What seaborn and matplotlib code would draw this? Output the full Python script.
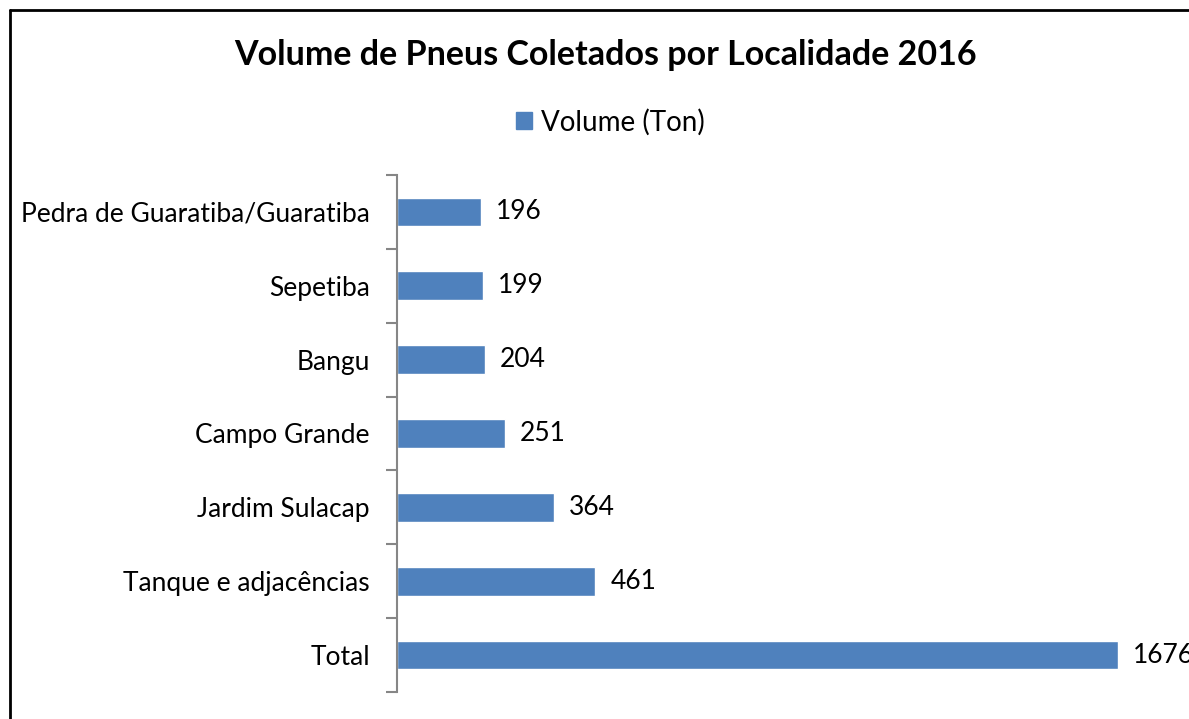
import matplotlib
matplotlib.use("Agg")
import matplotlib.pyplot as plt
import seaborn as sns
import pandas as pd
import numpy as np
from matplotlib.lines import Line2D
from matplotlib.patches import Rectangle
from matplotlib.ticker import FixedLocator

categories = ["Pedra de Guaratiba/Guaratiba", "Sepetiba", "Bangu", "Campo Grande",
              "Jardim Sulacap", "Tanque e adjacências", "Total"]
values = [196, 199, 204, 251, 364, 461, 1676]
series_name = "Volume (Ton)"
title = "Volume de Pneus Coletados por Localidade 2016"

sns.set_theme(style="white")
plt.rcParams['font.family'] = ['Lato', 'DejaVu Sans']
plt.rcParams['text.color'] = 'black'

W, H = 1189, 719
fig = plt.figure(figsize=(W/100, H/100), dpi=100)
ax_left, ax_right = 397/W, 1.0
ax_top, ax_bot = 1 - 175/H, 1 - 692/H
ax = fig.add_axes([ax_left, ax_bot, ax_right - ax_left, ax_top - ax_bot])

df = pd.DataFrame({"cat": categories, "val": values})
color = "#4F81BD"
sns.barplot(data=df, y="cat", x="val", orient="h", color=color, width=0.39,
            saturation=1, ax=ax, order=categories)

scale = 721 / 1676
ax.set_xlim(0, (W - 397) / scale)
ax.set_ylim(len(categories) - 0.5, -0.5)

for i, v in enumerate(values):
    ax.text(v + 15 / scale, i, str(v), va="center", ha="left", fontsize=19, color="black",
            clip_on=False)

for s in ["top", "right", "bottom"]:
    ax.spines[s].set_visible(False)
ax.spines["left"].set_color("#868686")
ax.spines["left"].set_linewidth(1.5)
ax.set_xticks([])
ax.set_xlabel("")
ax.set_ylabel("")
ax.tick_params(axis="y", which="major", length=0, pad=19.5, labelsize=19, labelcolor="black")
ax.yaxis.set_minor_locator(FixedLocator(np.arange(-0.5, len(categories), 1.0)))
ax.tick_params(axis="y", which="minor", length=8, width=1.5, color="#868686", left=True)

fig.text(605 / W, 1 - 55 / H, title, ha="center", va="center", fontsize=24.5,
         fontweight="bold", color="black")

handles = [Rectangle((0, 0), 1, 1, color=color)]
fig.legend(handles, [series_name], loc="center", bbox_to_anchor=(610 / W, 1 - 122 / H),
           frameon=False, fontsize=20, handlelength=0.6, handleheight=0.6, handletextpad=0.3,
           labelcolor="black")

fig.add_artist(Line2D([9.5 / W, 9.5 / W], [0, 1 - 10 / H], transform=fig.transFigure,
                      color="black", lw=2))
fig.add_artist(Line2D([9.5 / W, 1], [1 - 10 / H, 1 - 10 / H], transform=fig.transFigure,
                      color="black", lw=2))

fig.savefig("out.png", dpi=100)
